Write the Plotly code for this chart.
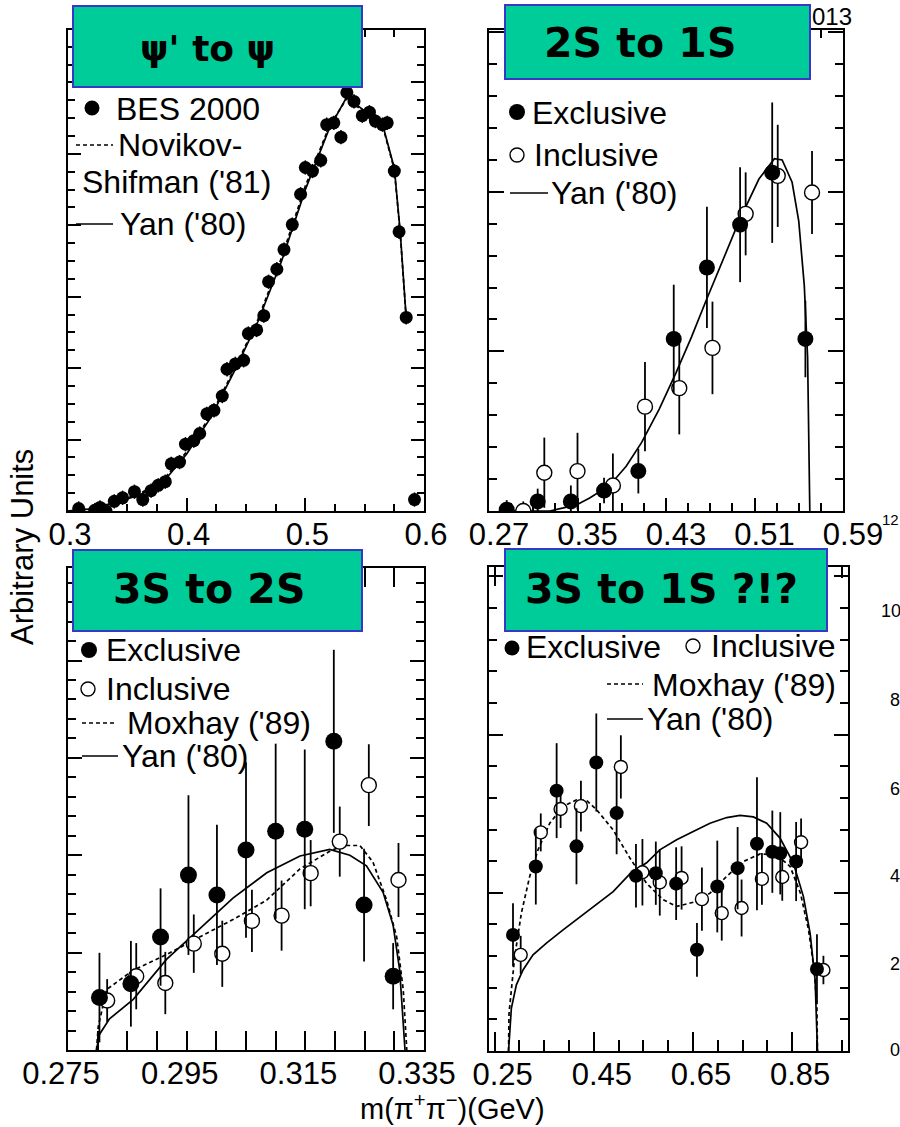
import plotly.graph_objects as go

# ---------------- DATA ----------------
# Panel 1: psi' -> psi (BES 2000)
p1_x = [0.309, 0.3225, 0.327, 0.332, 0.339, 0.346, 0.356, 0.363, 0.370, 0.376, 0.382, 0.387,
        0.394, 0.399, 0.406, 0.411, 0.417, 0.423, 0.430, 0.434, 0.441, 0.448, 0.452, 0.459,
        0.465, 0.469, 0.476, 0.482, 0.489, 0.496, 0.500, 0.506, 0.513, 0.518, 0.524, 0.530,
        0.535, 0.541, 0.548, 0.554, 0.559, 0.565, 0.569, 0.575, 0.579, 0.585, 0.592]
p1_y = [0.035, 0.01, 0.05, 0.0, 0.135, 0.185, 0.27, 0.16, 0.285, 0.36, 0.41, 0.66,
        0.685, 0.935, 0.985, 1.085, 1.36, 1.41, 1.61, 1.985, 2.06, 2.11, 2.485, 2.535,
        2.735, 3.21, 3.385, 3.66, 4.01, 4.435, 4.81, 4.76, 4.91, 5.41, 5.435, 5.235,
        5.86, 5.735, 5.535, 5.585, 5.46, 5.41, 5.435, 4.76, 3.91, 2.71, 0.16]
p1_curve_x = [0.30, 0.32, 0.34, 0.36, 0.38, 0.40, 0.42, 0.44, 0.46, 0.48, 0.50, 0.52,
              0.535, 0.55, 0.565, 0.575, 0.58, 0.585]
p1_yan = [0.0, 0.03, 0.12, 0.22, 0.40, 0.80, 1.30, 1.95, 2.65, 3.50, 4.50, 5.35,
          5.80, 5.60, 5.42, 4.80, 3.90, 2.70]
p1_nov = [0.0, 0.03, 0.13, 0.24, 0.43, 0.83, 1.33, 1.98, 2.68, 3.55, 4.55, 5.38,
          5.78, 5.58, 5.40, 4.78, 3.88, 2.70]

# Panel 2: 2S -> 1S
p2e_x = [0.286, 0.314, 0.344, 0.374, 0.405, 0.437, 0.467, 0.497, 0.526, 0.556]
p2e_y = [0.04, 0.30, 0.30, 0.64, 1.25, 5.39, 7.63, 8.97, 10.6, 5.39]
p2e_err = [0.3, 0.4, 0.5, 0.4, 0.7, 1.7, 1.9, 1.8, 2.2, 1.2]
p2i_x = [0.301, 0.320, 0.350, 0.382, 0.411, 0.442, 0.472, 0.502, 0.531, 0.562]
p2i_y = [0.0, 1.2, 1.25, 0.8, 3.27, 3.85, 5.11, 9.31, 10.5, 9.98]
p2i_err = [0.3, 1.1, 1.2, 1.0, 1.4, 1.45, 1.45, 1.3, 1.6, 1.3]
p2_curve_x = [0.279, 0.30, 0.325, 0.349, 0.361, 0.379, 0.394, 0.408, 0.424, 0.439, 0.453,
              0.466, 0.481, 0.496, 0.514, 0.528, 0.535, 0.544, 0.550, 0.555, 0.558, 0.560]
p2_yan = [0.0, 0.0, 0.0, 0.19, 0.41, 0.80, 1.4, 2.15, 3.2, 4.33, 5.45,
          6.57, 7.85, 9.08, 10.4, 11.04, 11.0, 10.3, 9.08, 7.07, 4.83, 0.0]

# Panel 3: 3S -> 2S
p3e_x = [0.2803, 0.2856, 0.2906, 0.2953, 0.3001, 0.3050, 0.3100, 0.3149, 0.3198, 0.3249, 0.3298]
p3e_y = [2.69, 3.40, 5.80, 8.98, 7.96, 10.27, 11.23, 11.33, 15.85, 7.44, 3.79]
p3e_err = [2.3, 2.2, 2.5, 4.1, 3.6, 4.5, 4.5, 4.1, 4.7, 2.9, 1.7]
p3i_x = [0.2816, 0.2865, 0.2914, 0.2962, 0.3010, 0.3060, 0.3110, 0.3159, 0.3208, 0.3257, 0.3307]
p3i_y = [2.54, 3.79, 3.44, 5.46, 4.94, 6.63, 6.90, 9.08, 10.7, 13.6, 8.73]
p3i_err = [1.1, 1.7, 1.6, 1.5, 1.7, 1.6, 1.8, 1.7, 1.8, 2.1, 1.9]
p3_yan_x = [0.2798, 0.2803, 0.282, 0.286, 0.2916, 0.2972, 0.3028, 0.3085, 0.3141, 0.3191,
            0.3225, 0.3253, 0.3281, 0.3298, 0.3309, 0.3318]
p3_yan = [0.0, 0.8, 1.6, 2.6, 4.65, 6.2, 7.8, 9.1, 9.96, 10.3, 10.0, 9.46, 8.1, 6.4, 4.1, 0.0]
p3_mox_x = [0.2798, 0.2801, 0.2815, 0.286, 0.2916, 0.2972, 0.3028, 0.3085, 0.3141, 0.3191,
            0.3214, 0.3242, 0.3264, 0.3287, 0.3304, 0.3315, 0.3321]
p3_mox = [0.0, 1.2, 3.1, 4.1, 4.9, 5.8, 6.7, 7.7, 9.3, 10.2, 10.5, 10.5, 9.65, 7.7, 5.8, 3.1, 0.0]

# Panel 4: 3S -> 1S
p4e_x = [0.287, 0.333, 0.375, 0.415, 0.455, 0.496, 0.535, 0.575, 0.616, 0.658, 0.699, 0.740,
         0.779, 0.810, 0.826, 0.858, 0.900]
p4e_y = [3.67, 5.83, 8.23, 6.47, 9.12, 7.52, 5.54, 5.62, 5.29, 3.20, 5.20, 5.78,
         6.55, 6.30, 6.25, 5.99, 2.59]
p4e_err = [1.0, 1.2, 1.5, 1.2, 1.55, 1.3, 1.0, 1.0, 1.15, 0.85, 1.45, 1.3, 2.1, 1.3, 1.3, 1.25, 1.1]
p4i_x = [0.3025, 0.343, 0.383, 0.424, 0.5045, 0.548, 0.583, 0.627, 0.668, 0.708, 0.748,
         0.789, 0.830, 0.868, 0.913]
p4i_y = [3.04, 6.91, 7.65, 7.74, 8.98, 5.65, 5.33, 5.47, 4.80, 4.36, 4.52, 5.44, 5.50, 6.60, 2.56]
p4i_err = [0.6, 0.6, 0.6, 0.8, 1.0, 1.05, 1.05, 1.0, 1.0, 0.87, 0.9, 0.82, 0.75, 0.75, 0.45]
p4_mox_x = [0.278, 0.279, 0.2904, 0.3039, 0.3207, 0.3375, 0.3611, 0.388, 0.415, 0.4352, 0.4554,
            0.489, 0.5227, 0.5564, 0.590, 0.617, 0.6505, 0.6843, 0.718, 0.7517, 0.7854, 0.819,
            0.846, 0.8667, 0.883, 0.8945, 0.8999, 0.901]
p4_mox = [0.0, 1.19, 2.98, 4.36, 5.52, 6.36, 7.20, 7.73, 7.94, 7.92, 7.63, 6.99, 6.10, 5.30,
          4.78, 4.57, 4.70, 4.99, 5.52, 5.99, 6.23, 6.20, 5.83, 4.99, 3.83, 2.56, 1.40, 0.0]
p4_yan_x = [0.278, 0.2837, 0.2938, 0.3072, 0.3274, 0.3544, 0.388, 0.4217, 0.4554, 0.489, 0.5227,
            0.5564, 0.583, 0.617, 0.6505, 0.6843, 0.718, 0.7449, 0.7717, 0.7986, 0.8255, 0.8524,
            0.8727, 0.8862, 0.8963, 0.901]
p4_yan = [0.0, 1.35, 2.09, 2.56, 3.04, 3.41, 3.83, 4.23, 4.62, 5.04, 5.6, 5.95, 6.36, 6.68,
          6.94, 7.20, 7.38, 7.45, 7.40, 7.20, 6.73, 5.94, 4.88, 3.72, 2.25, 0.0]

titles = ["\u03c8' to \u03c8", "2S to 1S", "3S to 2S", "3S to 1S ?!?"]
stray_labels = ["10", "8", "6", "4", "2", "0"]

# ---------------- LAYOUT HELPERS ----------------
W, H = 900, 1127
def fx(x): return x / W
def fy(y): return 1 - y / H

FONT = "Liberation Sans, Arial, sans-serif"
fig = go.Figure()

def curve(x, y, ax, dash="solid"):
    fig.add_trace(go.Scatter(x=x, y=y, mode="lines", xaxis="x" + ax, yaxis="y" + ax,
                             line=dict(color="black", width=1.7, dash=dash),
                             showlegend=False, hoverinfo="skip"))

def points(x, y, err, ax, filled, size):
    fig.add_trace(go.Scatter(
        x=x, y=y, mode="markers", xaxis="x" + ax, yaxis="y" + ax,
        marker=dict(symbol="circle", size=size, color="black" if filled else "white",
                    line=dict(color="black", width=0 if filled else 1.4)),
        error_y=dict(type="data", array=err, thickness=1.8, width=0, color="black"),
        showlegend=False))

DASH = "4px,3px"
# Panel 1
curve(p1_curve_x, p1_nov, "", DASH)
curve(p1_curve_x, p1_yan, "")
fig.add_trace(go.Scatter(x=p1_x, y=p1_y, mode="markers", xaxis="x", yaxis="y",
                         marker=dict(size=13, color="black"),
                         error_y=dict(type="constant", value=0.1, thickness=1.5, width=0, color="black"),
                         error_x=dict(type="constant", value=0.0035, thickness=1.5, width=0, color="black"),
                         showlegend=False))
# Panel 2
curve(p2_curve_x, p2_yan, "2")
points(p2i_x, p2i_y, p2i_err, "2", False, 15)
points(p2e_x, p2e_y, p2e_err, "2", True, 16)
# Panel 3
curve(p3_mox_x, p3_mox, "3", DASH)
curve(p3_yan_x, p3_yan, "3")
points(p3i_x, p3i_y, p3i_err, "3", False, 15)
points(p3e_x, p3e_y, p3e_err, "3", True, 17)
# Panel 4
curve(p4_mox_x, p4_mox, "4", DASH)
curve(p4_yan_x, p4_yan, "4")
points(p4i_x, p4i_y, p4i_err, "4", False, 13)
points(p4e_x, p4e_y, p4e_err, "4", True, 14)

# ---------------- AXES ----------------
def axis(dom_px, horiz, rng, tick0, dtick, mtick0, mdtick, ticklen, mlen, labels, anchor, shift=0):
    if horiz:
        d = [fx(dom_px[0]), fx(dom_px[1])]
    else:
        d = [fy(dom_px[1]), fy(dom_px[0])]
    return dict(domain=d, range=rng, anchor=anchor, showgrid=False, zeroline=False,
                automargin=False,
                showline=True, linecolor="black", linewidth=2, mirror="ticks",
                ticks="inside", ticklen=ticklen, tickwidth=1.5, tickcolor="black",
                tickmode="linear", tick0=tick0, dtick=dtick,
                showticklabels=labels, ticklabelstandoff=-5, ticklabelshift=shift,
                tickfont=dict(family=FONT, size=31, color="black"),
                minor=dict(ticks="inside", ticklen=mlen, tickwidth=1.5, tickcolor="black",
                           tick0=mtick0, dtick=mdtick, showgrid=False))

fig.update_layout(
    xaxis=axis([68, 424], True, [0.3, 0.6], 0.3, 0.1, 0.3, 0.025, 13, 7, True, "y", 2),
    yaxis=axis([30, 511], False, [0, 6.735], 0, 1, 0, 0.25, 13, 7, False, "x"),
    xaxis2=axis([489, 843], True, [0.27, 0.59], 0.27, 0.08, 0.27, 0.02, 13, 8, True, "y2", 10),
    yaxis2=axis([30, 511], False, [0, 15.07], 0, 5, 0, 1, 15, 8, False, "x2"),
    xaxis3=axis([68, 424], True, [0.275, 0.335], 0.275, 0.02, 0.275, 0.005, 19, 19, True, "y3", -7),
    yaxis3=axis([568, 1050], False, [0, 24.75], 0, 5, 0, 1, 14, 8, False, "x3"),
    xaxis4=axis([489, 848], True, [0.2386, 0.9626], 0.25, 0.2, 0.25, 0.05, 19, 11, True, "y4", 8),
    yaxis4=axis([567, 1051], False, [0, 15.3], 0, 5, 0, 1, 14, 8, False, "x4"),
)

# ---------------- TITLE BOXES ----------------
shapes = []
annots = []
boxes = [(73, 6, 362, 87, 207, 48, 36), (505, 5, 810, 79, 640, 43, 41),
         (73, 550, 362, 631, 209, 589, 41), (505, 549, 827, 631, 661, 589, 41)]
for (x0, y0, x1, y1, tx, ty, fs), t in zip(boxes, titles):
    shapes.append(dict(type="rect", xref="paper", yref="paper", x0=fx(x0), x1=fx(x1),
                       y0=fy(y1), y1=fy(y0), fillcolor="#00CC99",
                       line=dict(color="#3838C8", width=2), layer="above"))
    annots.append(dict(x=fx(tx), y=fy(ty), xref="paper", yref="paper", text="<b>%s</b>" % t,
                       showarrow=False, xanchor="center", yanchor="middle",
                       font=dict(family="DejaVu Sans, sans-serif", size=fs, color="black")))

# ---------------- LEGENDS (manual) ----------------
def text(x, y, s, size=32, anchor="left"):
    annots.append(dict(x=fx(x), y=fy(y), xref="paper", yref="paper", text=s, showarrow=False,
                       xanchor=anchor, yanchor="middle", borderpad=0,
                       font=dict(family=FONT, size=size, color="black")))

def dot(x, y, r, filled):
    shapes.append(dict(type="circle", xref="paper", yref="paper",
                       x0=fx(x - r), x1=fx(x + r), y0=fy(y + r), y1=fy(y - r),
                       fillcolor="black" if filled else "white",
                       line=dict(color="black", width=0 if filled else 1.4)))

def seg(x0, x1, y, dash="solid"):
    shapes.append(dict(type="line", xref="paper", yref="paper", x0=fx(x0), x1=fx(x1),
                       y0=fy(y), y1=fy(y), line=dict(color="black", width=1.5, dash=dash)))

# panel 1
dot(92, 108, 7.5, True); text(115, 109, "BES 2000")
seg(76, 113, 145, DASH); text(117, 145, "Novikov-")
text(81, 182, "Shifman ('81)")
seg(76, 113, 224); text(119, 224, "Yan ('80)")
# panel 2
dot(517, 112, 8, True); text(531, 113, "Exclusive")
dot(517, 155, 7, False); text(533, 155, "Inclusive")
seg(510, 548, 193); text(550, 193, "Yan ('80)")
# panel 3
dot(89, 650, 8, True); text(105, 650, "Exclusive")
dot(88, 689, 7, False); text(105, 689, "Inclusive")
seg(82, 117, 723, DASH); text(126, 723, "Moxhay ('89)")
seg(82, 118, 756); text(121, 756, "Yan ('80)")
# panel 4
dot(512, 648, 7.5, True); text(525, 647, "Exclusive")
dot(693, 646, 7, False); text(710, 646, "Inclusive")
seg(607, 643, 684, DASH); text(651, 685, "Moxhay ('89)")
seg(607, 643, 719); text(646, 719, "Yan ('80)")

# axis titles
annots.append(dict(x=fx(22), y=fy(547), xref="paper", yref="paper", text="Arbitrary Units",
                   showarrow=False, textangle=-90, xanchor="center", yanchor="middle",
                   font=dict(family=FONT, size=31, color="black")))
text(453, 1107, "m(\u03c0<sup>+</sup>\u03c0<sup>\u2212</sup>)(GeV)", size=29, anchor="center")

# stray fragments of the original slide
text(811, 16, "013", size=24)
text(881, 519, "12", size=15)
for s, xx, yy in zip(stray_labels, [880, 889, 889, 889, 889, 889], [611, 700, 789, 876, 964, 1050]):
    text(xx, yy, s, size=18)

fig.update_layout(width=W, height=H, margin=dict(l=0, r=0, t=0, b=0, autoexpand=False),
                  paper_bgcolor="white", plot_bgcolor="white",
                  shapes=shapes, annotations=annots, showlegend=False)

fig.write_html("out.html")
